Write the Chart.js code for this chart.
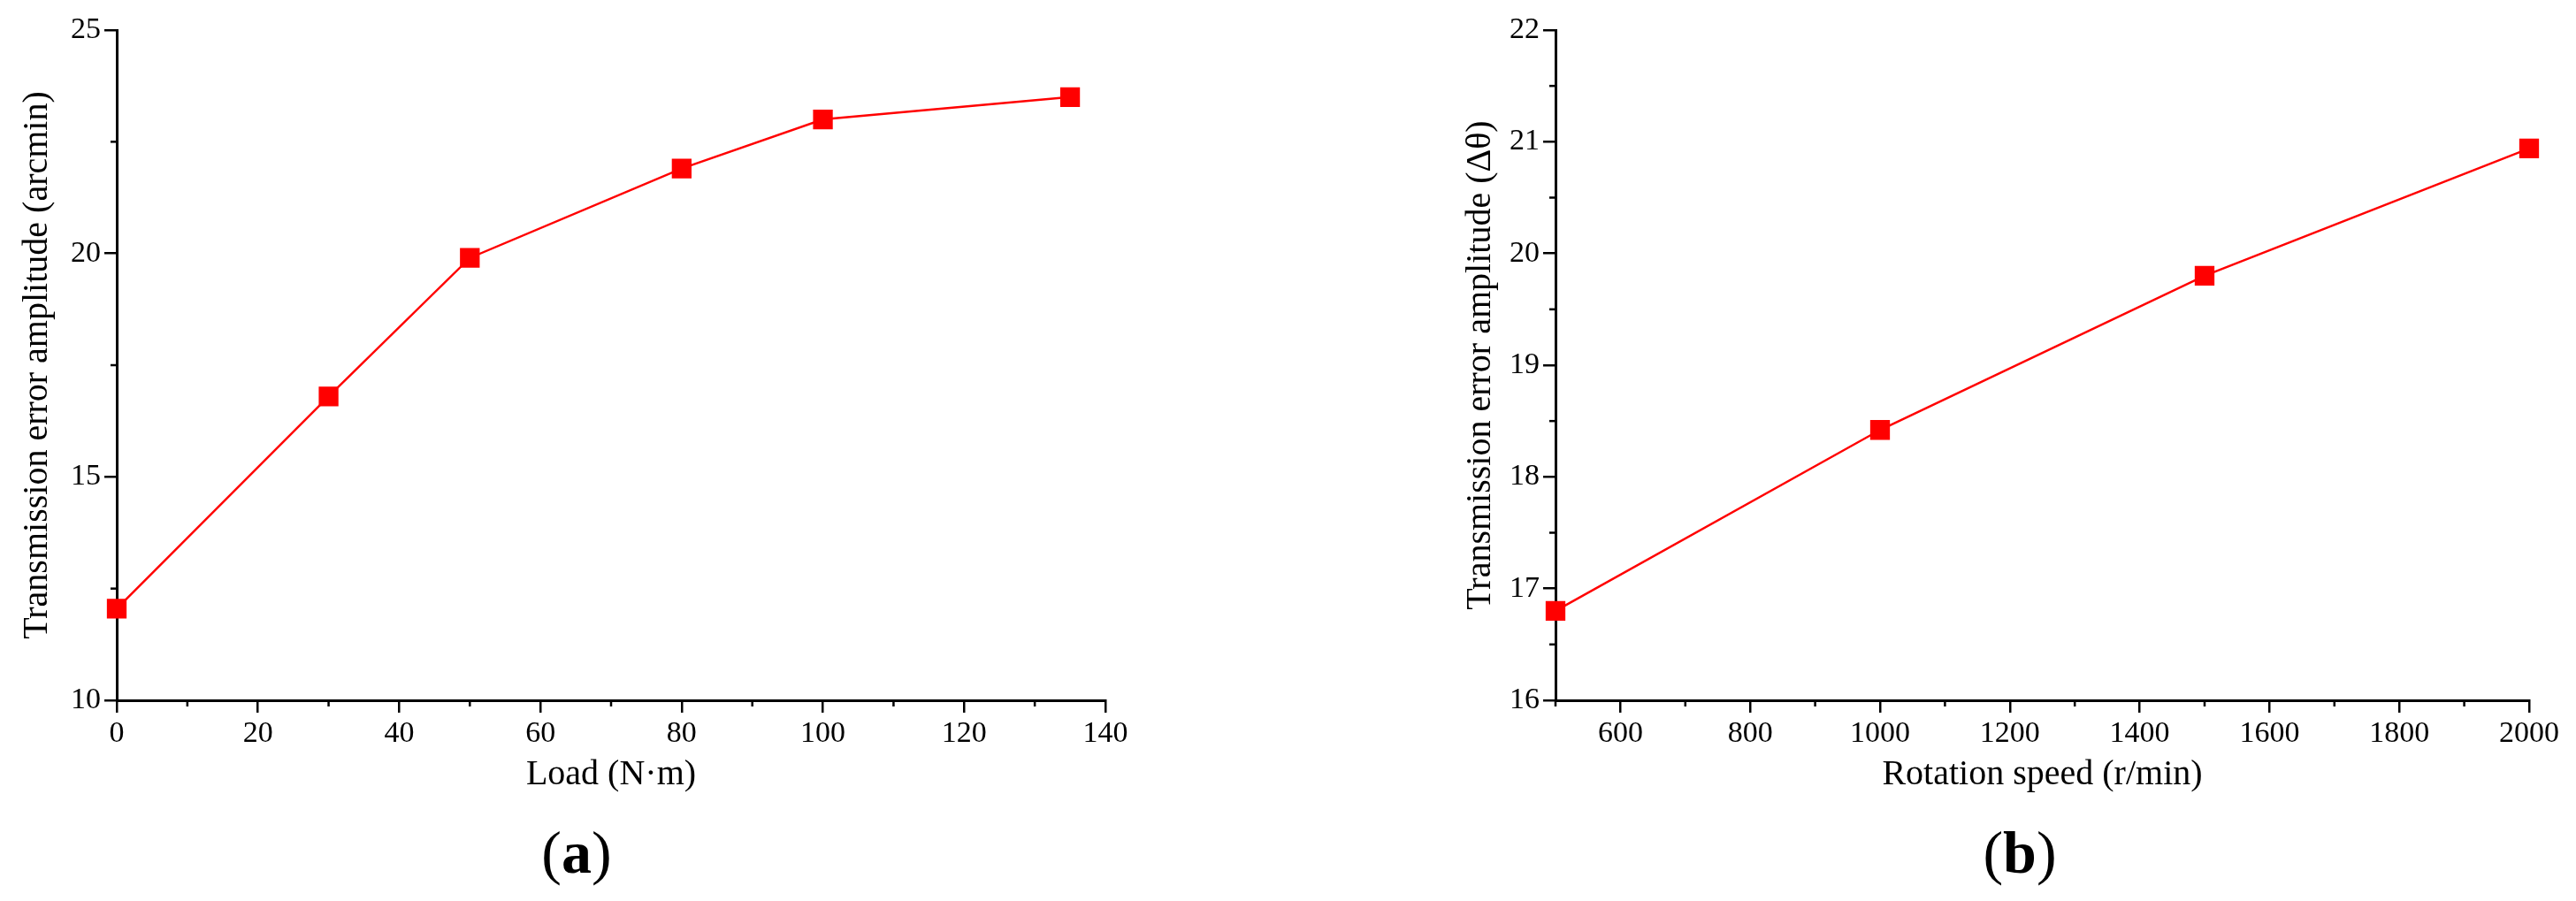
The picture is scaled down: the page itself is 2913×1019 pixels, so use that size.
<!DOCTYPE html>
<html><head><meta charset="utf-8">
<script src="https://cdn.jsdelivr.net/npm/chart.js@4"></script>
<style>
body{margin:0;background:#fff;width:2913px;height:1019px;position:relative;overflow:hidden;font-family:"Liberation Serif",serif}
.c{position:absolute;top:0;height:1019px}
.lab{position:absolute;top:925px;font-size:68px;font-family:"Liberation Serif";transform:translateX(-50%);}
</style></head><body>
<div class="c" style="left:0;width:1400px"><canvas id="a"></canvas></div>
<div class="c" style="left:1456px;width:1457px"><canvas id="b"></canvas></div>
<div class="lab" style="left:652px">(<b>a</b>)</div>
<div class="lab" style="left:2284px">(<b>b</b>)</div>
<script>
const loadX=[0,30,50,80,100,135];
const loadY=[12.05,16.8,19.9,21.9,23.0,23.5];
const speedX=[500,1000,1500,2000];
const speedY=[16.8,18.42,19.8,20.94];
const ticksAX=[0,20,40,60,80,100,120,140];
const ticksAY=[10,15,20,25];
const ticksBX=[600,800,1000,1200,1400,1600,1800,2000];
const ticksBY=[16,17,18,19,20,21,22];
const F="Liberation Serif";
function minor(vals){return {id:'m'+Math.random(),afterDraw(ch){const c=ch.ctx;c.save();c.strokeStyle='#000';c.lineWidth=2.5;
 const xs=ch.scales.x,ys=ch.scales.y;
 vals.x.forEach(v=>{const p=xs.getPixelForValue(v);c.beginPath();c.moveTo(p,ch.chartArea.bottom);c.lineTo(p,ch.chartArea.bottom+7);c.stroke();});
 vals.y.forEach(v=>{const p=ys.getPixelForValue(v);c.beginPath();c.moveTo(ch.chartArea.left,p);c.lineTo(ch.chartArea.left-7,p);c.stroke();});
 c.restore();}}}
function make(id,xs,ys,tx,ty,xmin,xmax,ymin,ymax,xt,yt,pad,yw,mins){
 new Chart(document.getElementById(id),{type:'line',
 data:{datasets:[{data:xs.map((x,i)=>({x,y:ys[i]})),borderColor:'#ff0000',backgroundColor:'#ff0000',borderWidth:2.5,pointStyle:'rect',pointRadius:14,pointHoverRadius:14,tension:0,clip:false}]},
 options:{responsive:true,maintainAspectRatio:false,animation:false,layout:{padding:pad},plugins:{legend:{display:false},tooltip:{enabled:false}},
 scales:{
  x:{type:'linear',min:xmin,max:xmax,afterBuildTicks:s=>{s.ticks=tx.map(v=>({value:v}))},afterFit:s=>{s.height=112},
   grid:{drawOnChartArea:false,tickLength:14,color:'#000',lineWidth:2.5},border:{color:'#000',width:3},
   ticks:{color:'#000',font:{family:F,size:34},padding:4,maxRotation:0,callback:v=>String(v)},
   title:{display:true,text:xt,color:'#000',font:{family:F,size:40},padding:{top:14}}},
  y:{type:'linear',min:ymin,max:ymax,afterBuildTicks:s=>{s.ticks=ty.map(v=>({value:v}))},afterFit:s=>{s.width=yw},
   grid:{drawOnChartArea:false,tickLength:14,color:'#000',lineWidth:2.5},border:{color:'#000',width:3},
   ticks:{color:'#000',font:{family:F,size:34},padding:4,callback:v=>String(v)},
   title:{display:true,text:yt,color:'#000',font:{family:F,size:40},padding:{bottom:4}}}}},
 plugins:[minor(mins)]});
}
make('a',loadX,loadY,ticksAX,ticksAY,0,140,10,25,'Load (N·m)','Transmission error amplitude (arcmin)',{top:34,right:150,left:14,bottom:115},118,{x:[10,30,50,70,90,110,130],y:[12.5,17.5,22.5]});
make('b',speedX,speedY,ticksBX,ticksBY,500,2000,16,22,'Rotation speed (r/min)','Transmission error amplitude (Δθ)',{top:34,right:53,left:190,bottom:115},113,{x:[500,700,900,1100,1300,1500,1700,1900],y:[16.5,17.5,18.5,19.5,20.5,21.5]});
</script></body></html>
